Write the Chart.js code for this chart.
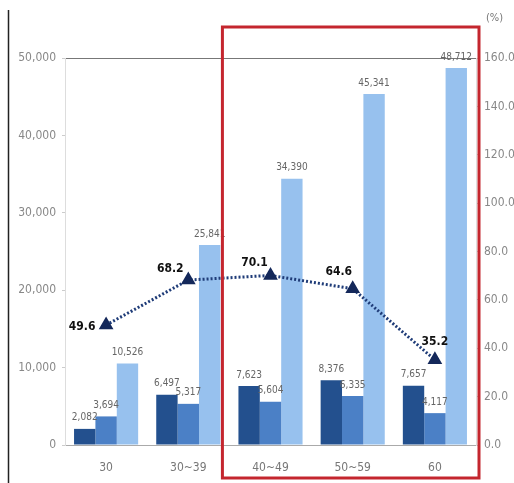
<!DOCTYPE html>
<html><head><meta charset="utf-8">
<script src="https://cdn.jsdelivr.net/npm/chart.js@4/dist/chart.umd.min.js"></script>
<style>html,body{margin:0;padding:0;background:#fff}#wrap{width:514px;height:483px;position:relative}</style>
</head><body><div id="wrap"><canvas id="c" width="514" height="483"></canvas></div>
<script>
const categories = ["30", "30~39", "40~49", "50~59", "60"];
const seriesA = [2082, 6497, 7623, 8376, 7657];
const seriesB = [3694, 5317, 5604, 6335, 4117];
const seriesC = [10526, 25841, 34390, 45341, 48712];
const ratio = [49.6, 68.2, 70.1, 64.6, 35.2];
const leftTicks = [0, 10000, 20000, 30000, 40000, 50000];
const rightTicks = [0, 20, 40, 60, 80, 100, 120, 140, 160];

const FONT = "'DejaVu Sans Condensed','DejaVu Sans',sans-serif";
const lineLabelOffsets = [[-24,2],[-18,-11],[-16,-13],[-14,-17],[0,-18]];

const labelsPlugin = {
  id: 'labels',
  afterDatasetsDraw(chart) {
    const ctx = chart.ctx;
    ctx.save();
    ctx.font = "10px " + FONT;
    ctx.fillStyle = "#666";
    ctx.textAlign = "center";
    ctx.textBaseline = "bottom";
    [0,1,2].forEach(di => {
      const meta = chart.getDatasetMeta(di);
      meta.data.forEach((bar, i) => {
        const v = chart.data.datasets[di].data[i];
        ctx.fillText(v.toLocaleString('en-US'), bar.x, bar.y - 6);
      });
    });
    const lm = chart.getDatasetMeta(3);
    ctx.font = "bold 12px " + FONT;
    ctx.fillStyle = "#111";
    ctx.textBaseline = "middle";
    lm.data.forEach((p, i) => {
      const o = lineLabelOffsets[i];
      ctx.fillText(ratio[i].toFixed(1), p.x + o[0], p.y + o[1]);
    });
    ctx.restore();
  },
  afterDraw(chart) {
    const ctx = chart.ctx, ca = chart.chartArea, x = chart.scales.x;
    const cw = x.getPixelForValue(3) - x.getPixelForValue(2);
    ctx.save();
    ctx.strokeStyle = "#222"; ctx.lineWidth = 1.5;
    ctx.beginPath(); ctx.moveTo(8.5, 10); ctx.lineTo(8.5, 483); ctx.stroke();
    ctx.strokeStyle = "#c4262e"; ctx.lineWidth = 3;
    const l = x.getPixelForValue(2) - 0.585 * cw;
    ctx.strokeRect(l, ca.top - 31, ca.right + 3 - l, chart.height - 5 - (ca.top - 31));
    ctx.font = "11px " + FONT; ctx.fillStyle = "#777"; ctx.textAlign = "left"; ctx.textBaseline = "middle";
    ctx.fillText("(%)", ca.right + 10, ca.top - 40);
    ctx.restore();
  }
};

new Chart(document.getElementById('c'), {
  data: {
    labels: categories,
    datasets: [
      {type:'bar', data: seriesA, backgroundColor:'#23508e', yAxisID:'y', order:2, barPercentage:1, categoryPercentage:0.78},
      {type:'bar', data: seriesB, backgroundColor:'#4b80c6', yAxisID:'y', order:2, barPercentage:1, categoryPercentage:0.78},
      {type:'bar', data: seriesC, backgroundColor:'#97c1ee', yAxisID:'y', order:2, barPercentage:1, categoryPercentage:0.78},
      {type:'line', data: ratio, yAxisID:'y1', order:1, borderColor:'#1f3c78', borderWidth:3, borderDash:[2,2],
       pointStyle:'triangle', pointRadius:5.5, pointBackgroundColor:'#14285a', pointBorderColor:'#14285a', fill:false, tension:0}
    ]
  },
  options: {
    responsive:false, animation:false,
    layout:{padding:{top:58, left:0, right:0, bottom:0}},
    plugins:{legend:{display:false}, tooltip:{enabled:false}},
    scales:{
      x:{
        afterFit(s){ s.height = 38; },
        grid:{display:false},
        border:{display:true, color:'#aaa'},
        ticks:{color:'#777', font:{family:FONT, size:12}, padding:8}
      },
      y:{
        position:'left', min:0, max:50000,
        afterBuildTicks(s){ s.ticks = leftTicks.map(v=>({value:v})); },
        afterFit(s){ s.width = 65; },
        grid:{drawOnChartArea:true, color:c=>c.tick && c.tick.value===50000 ? '#777' : 'rgba(0,0,0,0)', tickColor:'#ccc', tickLength:3, lineWidth:1},
        border:{display:true, color:'#ddd'},
        ticks:{color:'#888', font:{family:FONT, size:12}, padding:6, callback:v=>v.toLocaleString('en-US')}
      },
      y1:{
        position:'right', min:0, max:160,
        afterBuildTicks(s){ s.ticks = rightTicks.map(v=>({value:v})); },
        afterFit(s){ s.width = 38; },
        grid:{drawOnChartArea:false, tickColor:'#ccc', tickLength:3},
        border:{display:true, color:'#ddd'},
        ticks:{color:'#888', font:{family:FONT, size:12}, padding:5, callback:v=>v.toFixed(1)}
      }
    }
  },
  plugins:[labelsPlugin]
});
</script></body></html>
